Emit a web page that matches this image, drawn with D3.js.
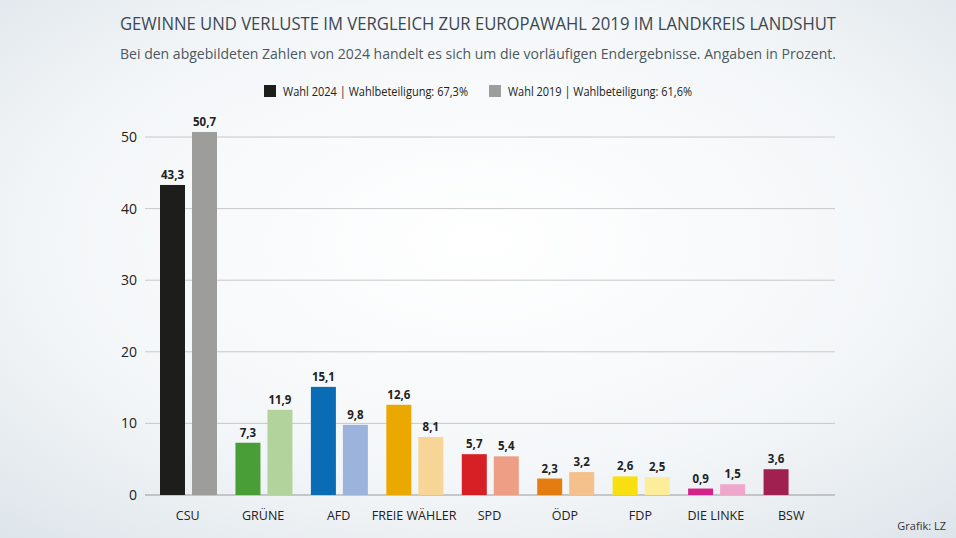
<!DOCTYPE html>
<html><head><meta charset="utf-8">
<script src="https://cdn.jsdelivr.net/npm/d3@7"></script>
<style>body{margin:0}svg{display:block}text{font-family:"Open Sans",sans-serif}</style>
</head><body><svg id="c" width="956" height="538"></svg>
<script>
const categories=["CSU","GRÜNE","AFD","FREIE WÄHLER","SPD","ÖDP","FDP","DIE LINKE","BSW"];
const values2024=[43.3,7.3,15.1,12.6,5.7,2.3,2.6,0.9,3.6];
const values2019=[50.7,11.9,9.8,8.1,5.4,3.2,2.5,1.5,null];
const colors2024=["#1d1d1b","#4a9e37","#0a6cb4","#eaa800","#d71f26","#e47c12","#f8e010","#d5228a","#a0204f"];
const colors2019=["#9d9d9c","#b3d39c","#9cb4dc","#f7d597","#ee9e85","#f4c08c","#fbed9a","#eea6cb","#ccc"];
const yTicks=[0,10,20,30,40,50];
const svg=d3.select("#c");
const defs=svg.append("defs");
const g=defs.append("radialGradient").attr("id","bg").attr("cx","50%").attr("cy","45%").attr("r","75%");
g.append("stop").attr("offset","0%").attr("stop-color","#ffffff");
g.append("stop").attr("offset","60%").attr("stop-color","#f3f6f8");
g.append("stop").attr("offset","100%").attr("stop-color","#dde4ea");
svg.append("rect").attr("width",956).attr("height",538).attr("fill","url(#bg)");
const x=d3.scaleBand().domain(categories).range([151,830]);
const y=d3.scaleLinear().domain([0,50]).range([495,137]);
const fmt=v=>String(v).replace(".",",");
svg.append("g").selectAll("line").data(yTicks.slice(1)).join("line")
 .attr("x1",145).attr("x2",835).attr("y1",d=>y(d)).attr("y2",d=>y(d)).attr("stroke","#c8c8c8").attr("stroke-width",1);
svg.append("line").attr("x1",145).attr("x2",835).attr("y1",y(0)).attr("y2",y(0)).attr("stroke","#999");
svg.append("g").selectAll("text").data(yTicks).join("text").attr("x",137).attr("y",d=>y(d)+5)
 .attr("text-anchor","end").attr("font-size",14).attr("fill","#222").text(d=>d);
const bw=25, off=[9,41];
const data=categories.map((c,i)=>({c,i}));
[[values2024,colors2024,0],[values2019,colors2019,1]].forEach(([vals,cols,k])=>{
 const d=data.filter(d=>vals[d.i]!=null);
 svg.append("g").selectAll("rect").data(d).join("rect")
  .attr("x",d=>x(d.c)+off[k]).attr("width",bw).attr("y",d=>y(vals[d.i])).attr("height",d=>y(0)-y(vals[d.i])).attr("fill",d=>cols[d.i]);
 svg.append("g").selectAll("text").data(d).join("text")
  .attr("x",d=>x(d.c)+off[k]+bw/2).attr("y",d=>y(vals[d.i])-6).attr("text-anchor","middle")
  .attr("font-size",11.5).attr("font-weight","bold").attr("fill","#222").text(d=>fmt(vals[d.i]));
});
svg.append("g").selectAll("text").data(categories).join("text").attr("x",d=>x(d)+x.bandwidth()/2-1).attr("y",520)
 .attr("text-anchor","middle").attr("font-size",12.5).attr("fill","#222").text(d=>d);
svg.append("text").attr("x",478).attr("y",30).attr("text-anchor","middle").attr("font-size",17.5).attr("fill","#3b4852")
 .attr("textLength",716).attr("lengthAdjust","spacingAndGlyphs").text("GEWINNE UND VERLUSTE IM VERGLEICH ZUR EUROPAWAHL 2019 IM LANDKREIS LANDSHUT");
svg.append("text").attr("x",478).attr("y",59).attr("text-anchor","middle").attr("font-size",15).attr("fill","#4c5860")
 .attr("textLength",716).attr("lengthAdjust","spacingAndGlyphs").text("Bei den abgebildeten Zahlen von 2024 handelt es sich um die vorläufigen Endergebnisse. Angaben in Prozent.");
const leg=[["#1d1d1b","Wahl 2024 | Wahlbeteiligung: 67,3%",264,185],["#9d9d9c","Wahl 2019 | Wahlbeteiligung: 61,6%",489,184]];
leg.forEach(([c,t,lx,w])=>{
 svg.append("rect").attr("x",lx).attr("y",85).attr("width",12).attr("height",12).attr("fill",c);
 svg.append("text").attr("x",lx+19).attr("y",96).attr("font-size",12).attr("fill","#222")
  .attr("textLength",w).attr("lengthAdjust","spacingAndGlyphs").text(t);
});
svg.append("text").attr("x",946).attr("y",530).attr("text-anchor","end").attr("font-size",11).attr("fill","#333").text("Grafik: LZ");
</script></body></html>
